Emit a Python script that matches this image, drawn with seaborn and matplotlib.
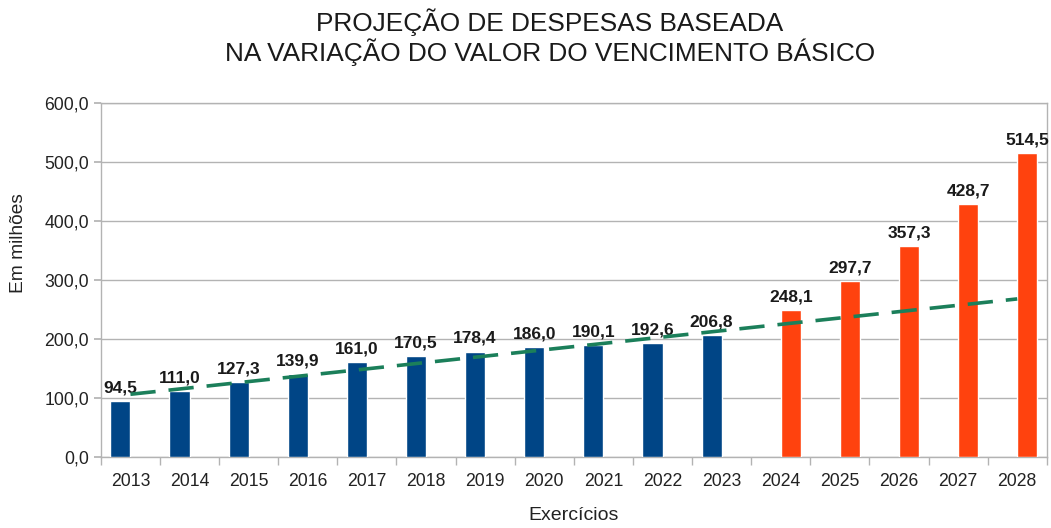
import numpy as np
import pandas as pd
import matplotlib
matplotlib.use("Agg")
import matplotlib.pyplot as plt
import seaborn as sns

# data
years = ["2013", "2014", "2015", "2016", "2017", "2018", "2019", "2020",
         "2021", "2022", "2023", "2024", "2025", "2026", "2027", "2028"]
values = [94.5, 111.0, 127.3, 139.9, 161.0, 170.5, 178.4, 186.0,
          190.1, 192.6, 206.8, 248.1, 297.7, 357.3, 428.7, 514.5]
groups = ["realizado"] * 11 + ["projetado"] * 5
y_ticks = [0, 100, 200, 300, 400, 500, 600]

df = pd.DataFrame({"ano": years, "valor": values, "grupo": groups})

sns.set_theme(style="white")
plt.rcParams["font.family"] = ["Liberation Sans", "DejaVu Sans"]

fig, ax = plt.subplots(figsize=(10.51, 5.28), dpi=100)
fig.subplots_adjust(left=0.096, right=0.996, top=0.805, bottom=0.135)

# two series side by side, as in the original spreadsheet chart
sns.barplot(data=df, x="ano", y="valor", hue="grupo",
            hue_order=["realizado", "projetado"],
            palette={"realizado": "#004586", "projetado": "#ff420e"},
            saturation=1, dodge=True, width=0.68, legend=False, ax=ax, zorder=3)

for cont in ax.containers:
    labs = ["" if np.isnan(v) else f"{v:.1f}".replace(".", ",") for v in cont.datavalues]
    ax.bar_label(cont, labels=labs, padding=4, fontsize=12.5,
                 fontweight="bold", color="#1a1a1a")

# linear trend of 2013-2023, extended to 2028
hist = df[df["grupo"] == "realizado"]
pos = np.arange(len(years))
coef = np.polyfit(np.arange(len(hist)), hist["valor"], 1)
sns.lineplot(x=pos, y=np.polyval(coef, pos), color="#1b7f5a",
             linewidth=2.6, ax=ax, zorder=4)
ax.lines[-1].set_linestyle((0, (7, 3.6)))

ax.set_ylim(0, 600)
ax.set_xlim(-0.5, len(years) - 0.5)
ax.set_yticks(y_ticks)
ax.set_yticklabels([f"{t:.1f}".replace(".", ",") for t in y_ticks])
ax.yaxis.grid(True, color="#b3b3b3", linewidth=1)
ax.set_axisbelow(True)

# x ticks sit between the categories
ax.set_xticks(np.arange(len(years) + 1) - 0.5, minor=True)
ax.tick_params(axis="x", which="major", length=0, pad=12, labelsize=12.7, labelcolor="#222222")
ax.tick_params(axis="x", which="minor", length=6, color="#b3b3b3", bottom=True)
ax.tick_params(axis="y", length=5, color="#b3b3b3", left=True, labelsize=12.7, labelcolor="#222222")

for s in ax.spines.values():
    s.set_color("#b3b3b3")
    s.set_linewidth(1)

ax.set_xlabel("Exercícios", fontsize=14, color="#222222", labelpad=12)
ax.set_ylabel("Em milhões", fontsize=13.8, color="#222222")
ax.yaxis.set_label_coords(-0.078, 0.605)
fig.suptitle("PROJEÇÃO DE DESPESAS BASEADA\nNA VARIAÇÃO DO VALOR DO VENCIMENTO BÁSICO",
             x=0.523, y=0.985, fontsize=18.9, color="#1a1a1a", linespacing=1.1)

fig.savefig("out.png", dpi=100)
